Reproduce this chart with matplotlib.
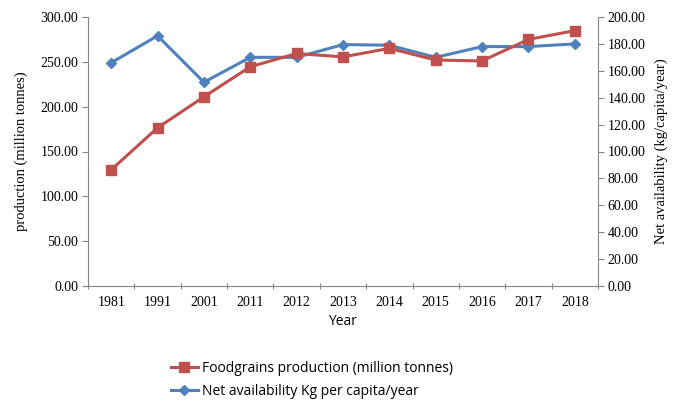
from matplotlib import pyplot as plt
from matplotlib.lines import Line2D

years = ['1981', '1991', '2001', '2011', '2012', '2013', '2014', '2015', '2016', '2017', '2018']
production = [129.6, 176.4, 211.0, 244.5, 259.3, 255.5, 265.0, 252.0, 251.0, 275.0, 284.8]
net_avail = [166.0, 186.0, 151.5, 170.0, 170.0, 179.5, 179.0, 170.0, 178.0, 178.0, 180.0]

RED = '#C0504D'
BLUE = '#4F81BD'
AXIS = '#868686'
SERIF = ['Liberation Serif', 'DejaVu Serif']
SANS = ['Open Sans', 'DejaVu Sans']

fig = plt.figure(figsize=(6.78, 4.05), dpi=100)
ax1 = fig.add_axes([88/678, 1-286/405, (598-88)/678, (286-17)/405])
ax2 = ax1.twinx()
ax1.set_zorder(ax2.get_zorder() + 1)
ax1.patch.set_visible(False)

x = list(range(len(years)))
ax2.plot(x, net_avail, color=BLUE, lw=2.2, marker='D', ms=5.5,
         label='Net availability Kg per capita/year')
ax1.plot(x, production, color=RED, lw=2.2, marker='s', ms=7,
         label='Foodgrains production (million tonnes)')

ax1.set_xlim(-0.5, len(years) - 0.5)
ax1.set_ylim(0, 300)
ax2.set_ylim(0, 200)
ax1.set_yticks(range(0, 301, 50))
ax2.set_yticks(range(0, 201, 20))
ax1.set_yticklabels(['%.2f' % v for v in range(0, 301, 50)], family=SERIF, fontsize=10)
ax2.set_yticklabels(['%.2f' % v for v in range(0, 201, 20)], family=SERIF, fontsize=10)

ax1.set_xticks([i + 0.5 for i in range(-1, len(years))])
ax1.set_xticklabels([])
ax1.set_xticks(x, minor=True)
ax1.set_xticklabels(years, minor=True, family=SERIF, fontsize=10)
ax1.tick_params(axis='x', which='major', length=4, direction='inout', color=AXIS)
ax1.tick_params(axis='x', which='minor', length=0, pad=7)
ax1.tick_params(axis='y', length=4, color=AXIS, pad=3)
ax2.tick_params(axis='y', length=4, color=AXIS, pad=3)

for a in (ax1, ax2):
    a.spines['top'].set_visible(False)
    for s in ('left', 'right', 'bottom'):
        a.spines[s].set_color(AXIS)
ax1.spines['right'].set_visible(False)
ax2.spines['left'].set_visible(False)
ax2.spines['bottom'].set_visible(False)

ax1.set_xlabel('Year', family=SANS, fontsize=10, labelpad=4)
ax1.set_ylabel('production (million tonnes)', family=SERIF, fontsize=10.5, labelpad=9)
ax2.set_ylabel('Net availability (kg/capita/year)', family=SERIF, fontsize=10.5, labelpad=6)

handles = [Line2D([], [], color=RED, lw=2.2, marker='s', ms=7),
           Line2D([], [], color=BLUE, lw=2.2, marker='D', ms=5.5)]
labels = ['Foodgrains production (million tonnes)', 'Net availability Kg per capita/year']
fig.legend(handles, labels, loc='center', bbox_to_anchor=(312/678, 1-380/405),
           frameon=False, prop={'family': SANS, 'size': 10}, handlelength=2.0,
           handletextpad=0.3, labelspacing=0.55)

plt.savefig('out.png', dpi=100)
